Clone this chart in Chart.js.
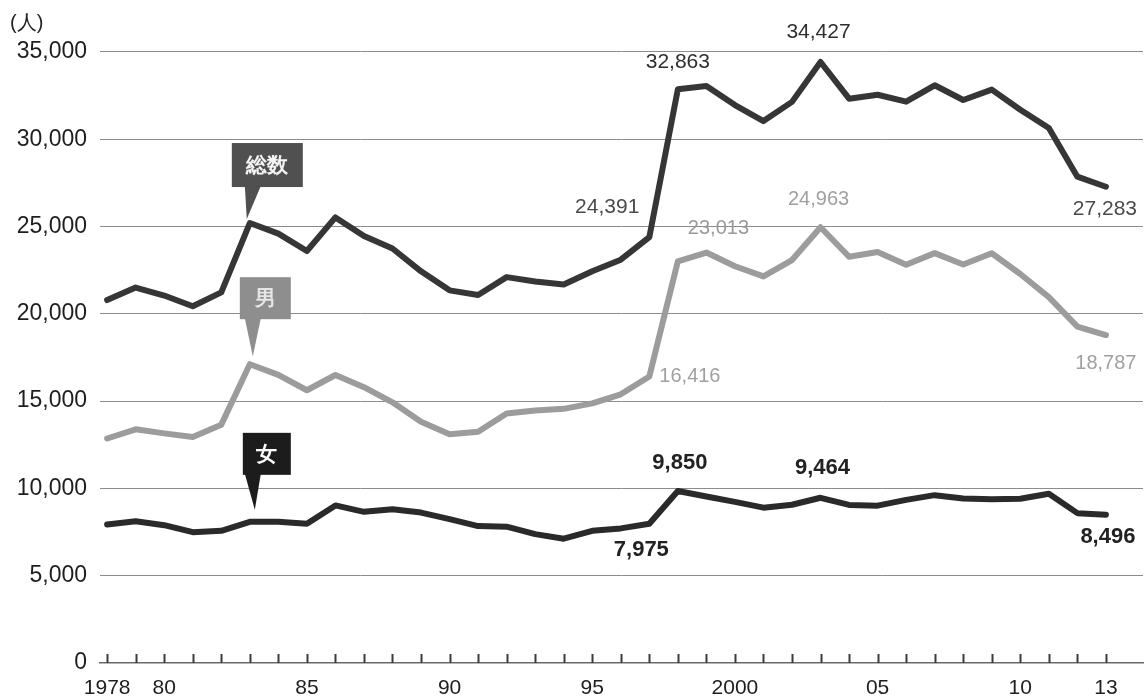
<!DOCTYPE html>
<html>
<head>
<meta charset="utf-8"/>
<title>自殺者数の推移</title>
<script src="https://cdn.jsdelivr.net/npm/chart.js@4/dist/chart.umd.min.js"></script>
<style>
  html, body { margin: 0; padding: 0; background: #fff; }
  #wrap { position: relative; width: 1148px; height: 698px; }
</style>
</head>
<body>
<div id="wrap">
  <canvas id="suicides" width="1148" height="698"></canvas>
</div>
<script>
// years and yearly counts (人)
var years = [1978, 1979, 1980, 1981, 1982, 1983, 1984, 1985, 1986, 1987,
             1988, 1989, 1990, 1991, 1992, 1993, 1994, 1995, 1996, 1997,
             1998, 1999, 2000, 2001, 2002, 2003, 2004, 2005, 2006, 2007,
             2008, 2009, 2010, 2011, 2012, 2013];

var total = [20788, 21503, 21048, 20434, 21228, 25202, 24596, 23599, 25524, 24460,
             23742, 22436, 21346, 21084, 22104, 21851, 21679, 22445, 23104, 24391,
             32863, 33048, 31957, 31042, 32143, 34427, 32325, 32552, 32155, 33093,
             32249, 32845, 31690, 30651, 27858, 27283];

var male = [12859, 13386, 13155, 12942, 13654, 17116, 16508, 15624, 16497, 15802,
            14934, 13818, 13102, 13242, 14296, 14468, 14560, 14874, 15393, 16416,
            23013, 23512, 22727, 22144, 23080, 24963, 23272, 23540, 22813, 23478,
            22831, 23472, 22283, 20955, 19273, 18787];

var female = [7929, 8117, 7893, 7492, 7574, 8086, 8088, 7975, 9027, 8658,
              8808, 8618, 8244, 7842, 7808, 7383, 7119, 7571, 7711, 7975,
              9850, 9536, 9230, 8898, 9063, 9464, 9053, 9012, 9342, 9615,
              9418, 9373, 9407, 9696, 8585, 8496];

var yTicks = [0, 5000, 10000, 15000, 20000, 25000, 30000, 35000];
var xLabelYears = [1978, 1980, 1985, 1990, 1995, 2000, 2005, 2010, 2013];
var xLabelText = ['1978', '80', '85', '90', '95', '2000', '05', '10', '13'];

var FONT = "'Liberation Sans', Arial, sans-serif";

function pts(vals) {
    return years.map(function (y, i) { return { x: y, y: vals[i] }; });
}

// value labels: dataset index, year, offset from the point, alignment
var valueLabels = [
    { ds: 0, year: 1997, dx: -10, dy: -30, align: 'right',  color: '#4a4a4a', font: '21px ' + FONT },
    { ds: 0, year: 1998, dx: 0,   dy: -27, align: 'center', color: '#2e2e2e', font: '21px ' + FONT },
    { ds: 0, year: 2003, dx: -2,  dy: -30, align: 'center', color: '#2e2e2e', font: '21px ' + FONT },
    { ds: 0, year: 2013, dx: -1,  dy: 22,  align: 'center', color: '#4a4a4a', font: '21px ' + FONT },
    { ds: 1, year: 1997, dx: 10,  dy: 0,   align: 'left',   color: '#a0a0a0', font: '20px ' + FONT },
    { ds: 1, year: 1998, dx: 10,  dy: -33, align: 'left',   color: '#9a9a9a', font: '20px ' + FONT },
    { ds: 1, year: 2003, dx: -2,  dy: -28, align: 'center', color: '#a0a0a0', font: '20px ' + FONT },
    { ds: 1, year: 2013, dx: 0,   dy: 28,  align: 'center', color: '#a0a0a0', font: '20px ' + FONT },
    { ds: 2, year: 1997, dx: -8,  dy: 26,  align: 'center', color: '#222',    font: 'bold 22px ' + FONT },
    { ds: 2, year: 1998, dx: 2,   dy: -28, align: 'center', color: '#222',    font: 'bold 22px ' + FONT },
    { ds: 2, year: 2003, dx: 2,   dy: -30, align: 'center', color: '#222',    font: 'bold 22px ' + FONT },
    { ds: 2, year: 2013, dx: 2,   dy: 22,  align: 'center', color: '#222',    font: 'bold 22px ' + FONT }
];

// name tags pointing at the 1983 point of each line
var tags = [
    { ds: 0, text: '総数', left: -18, top: -80, w: 71, h: 44, fill: '#505050', color: '#f4f4f4', tipDx: -3, tipDy: -4 },
    { ds: 1, text: '男',   left: -10, top: -87, w: 51, h: 42, fill: '#8e8e8e', color: '#e6e6e6', tipDx: 3,  tipDy: -8 },
    { ds: 2, text: '女',   left: -7,  top: -89, w: 48, h: 42, fill: '#1c1c1c', color: '#fafafa', tipDx: 5,  tipDy: -12 }
];
var tagYear = 1983;

var decorations = {
    id: 'decorations',
    afterDraw: function (chart) {
        var c = chart.ctx;
        var xs = chart.scales.x, ys = chart.scales.y;
        var area = chart.chartArea;

        // small tick marks standing on the zero line
        c.save();
        c.strokeStyle = '#3a3a3a';
        c.lineWidth = 2;
        years.forEach(function (yr) {
            var px = Math.round(xs.getPixelForValue(yr)) + 0.5;
            c.beginPath();
            c.moveTo(px, area.bottom - 9);
            c.lineTo(px, area.bottom);
            c.stroke();
        });
        c.restore();

        // unit
        c.save();
        c.fillStyle = '#222';
        c.font = '20px ' + FONT;
        c.textBaseline = 'middle';
        c.textAlign = 'left';
        c.fillText('(人)', 10, 23);
        c.restore();

        // value labels
        valueLabels.forEach(function (l) {
            var i = years.indexOf(l.year);
            var v = chart.data.datasets[l.ds].data[i].y;
            var px = xs.getPixelForValue(l.year) + l.dx;
            var py = ys.getPixelForValue(v) + l.dy;
            c.save();
            c.font = l.font;
            c.fillStyle = l.color;
            c.textAlign = l.align;
            c.textBaseline = 'middle';
            c.fillText(v.toLocaleString('en-US'), px, py);
            c.restore();
        });

        // tags
        var i83 = years.indexOf(tagYear);
        tags.forEach(function (t) {
            var v = chart.data.datasets[t.ds].data[i83].y;
            var px = xs.getPixelForValue(tagYear);
            var py = ys.getPixelForValue(v);
            var bx = px + t.left, by = py + t.top;
            c.save();
            c.fillStyle = t.fill;
            c.fillRect(bx, by, t.w, t.h);
            c.beginPath();
            c.moveTo(px - 5, by + t.h - 1);
            c.lineTo(px + 11, by + t.h - 1);
            c.lineTo(px + t.tipDx, py + t.tipDy);
            c.closePath();
            c.fill();
            c.fillStyle = t.color;
            c.font = 'bold 21px ' + FONT;
            c.textAlign = 'center';
            c.textBaseline = 'middle';
            c.fillText(t.text, bx + t.w / 2, by + t.h / 2 + 1);
            c.restore();
        });
    }
};

var lineStyle = { borderWidth: 6, pointRadius: 0, tension: 0, borderJoinStyle: 'round', borderCapStyle: 'round', fill: false };

new Chart(document.getElementById('suicides').getContext('2d'), {
    type: 'line',
    data: {
        datasets: [
            Object.assign({ label: '総数', data: pts(total),  borderColor: '#363636' }, lineStyle),
            Object.assign({ label: '男',   data: pts(male),   borderColor: '#9c9c9c' }, lineStyle),
            Object.assign({ label: '女',   data: pts(female), borderColor: '#2a2a2a' }, lineStyle)
        ]
    },
    options: {
        responsive: false,
        animation: false,
        layout: { padding: { top: 30, right: 5, left: 0, bottom: 0 } },
        plugins: { legend: { display: false }, tooltip: { enabled: false } },
        scales: {
            x: {
                type: 'linear',
                min: 1977.75,
                max: 2014.3,
                afterBuildTicks: function (s) { s.ticks = years.map(function (v) { return { value: v }; }); },
                afterFit: function (s) { s.height = 35; },
                grid: { display: false, drawTicks: false },
                border: { display: true, color: '#6a6a6a', width: 1.5 },
                ticks: {
                    autoSkip: false,
                    maxRotation: 0,
                    padding: 13,
                    color: '#1e1e1e',
                    font: { family: FONT, size: 21 },
                    callback: function (v) {
                        var k = xLabelYears.indexOf(v);
                        return k >= 0 ? xLabelText[k] : '';
                    }
                }
            },
            y: {
                min: 0,
                max: 36260,
                afterBuildTicks: function (s) { s.ticks = yTicks.map(function (v) { return { value: v }; }); },
                afterFit: function (s) { s.width = 100; },
                grid: {
                    drawTicks: false,
                    lineWidth: 1,
                    color: function (ctx) { return ctx.tick && ctx.tick.value === 0 ? 'rgba(0,0,0,0)' : '#8c8c8c'; }
                },
                border: { display: false },
                ticks: {
                    padding: 13,
                    color: '#1e1e1e',
                    font: { family: FONT, size: 23 },
                    callback: function (v) { return v.toLocaleString('en-US'); }
                }
            }
        }
    },
    plugins: [decorations]
});
</script>
</body>
</html>
